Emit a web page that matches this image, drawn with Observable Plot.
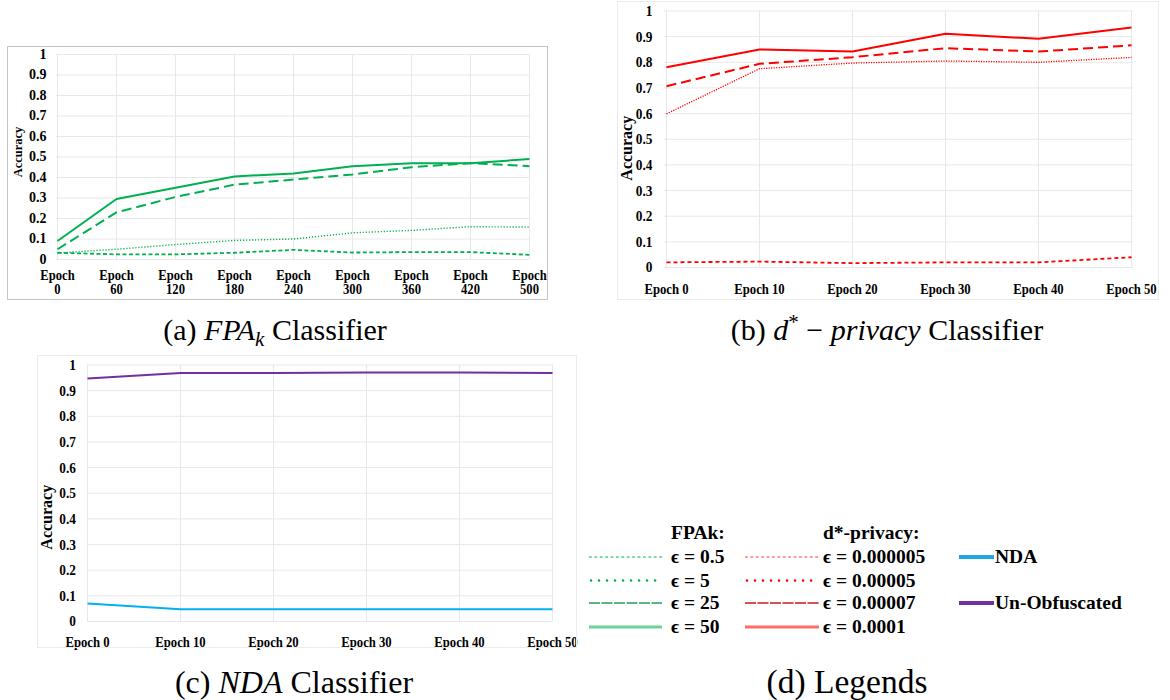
<!DOCTYPE html>
<html>
<head>
<meta charset="utf-8">
<script src="https://cdn.jsdelivr.net/npm/d3@7"></script>
<script src="https://cdn.jsdelivr.net/npm/@observablehq/plot@0.6"></script>
<style>
  html, body { margin: 0; padding: 0; background: #fff; }
  #root { position: relative; width: 1170px; height: 700px; overflow: hidden; }
  .panel { position: absolute; }
  .panel svg { display: block; overflow: visible; }
  .frame { position: absolute; box-sizing: border-box; pointer-events: none; }
  #overlay { position: absolute; left: 0; top: 0; }
</style>
</head>
<body>
<div id="root"></div>
<script>
// ---------------- DATA ----------------
const yTicks = [0, 0.1, 0.2, 0.3, 0.4, 0.5, 0.6, 0.7, 0.8, 0.9, 1];

// (a) FPAk classifier
const fpaEpochs = ["0", "60", "120", "180", "240", "300", "360", "420", "500"];
const fpaEps05 = [0.033, 0.025, 0.025, 0.033, 0.047, 0.034, 0.036, 0.036, 0.023];
const fpaEps5  = [0.032, 0.05, 0.073, 0.093, 0.10, 0.13, 0.142, 0.16, 0.158];
const fpaEps25 = [0.05, 0.23, 0.305, 0.365, 0.39, 0.415, 0.45, 0.47, 0.455];
const fpaEps50 = [0.09, 0.295, 0.35, 0.405, 0.42, 0.455, 0.47, 0.47, 0.49];

// (b) d*-privacy classifier
const dEpochs = ["Epoch 0", "Epoch 10", "Epoch 20", "Epoch 30", "Epoch 40", "Epoch 50"];
const dpEps000005 = [0.02, 0.023, 0.017, 0.02, 0.02, 0.04];
const dpEps00005  = [0.599, 0.775, 0.797, 0.805, 0.80, 0.819];
const dpEps00007  = [0.707, 0.794, 0.82, 0.855, 0.842, 0.866];
const dpEps0001   = [0.781, 0.85, 0.842, 0.911, 0.892, 0.936];

// (c) NDA classifier
const ndaEpochs = ["Epoch 0", "Epoch 10", "Epoch 20", "Epoch 30", "Epoch 40", "Epoch 50"];
const ndaAcc   = [0.07, 0.048, 0.048, 0.048, 0.048, 0.048];
const unObfAcc = [0.947, 0.969, 0.969, 0.971, 0.971, 0.969];

// legend labels
const fpaLegend = ["ϵ = 0.5", "ϵ = 5", "ϵ = 25", "ϵ = 50"];
const dpLegend  = ["ϵ = 0.000005", "ϵ = 0.00005", "ϵ = 0.00007", "ϵ = 0.0001"];
const otherLegend = ["NDA", "Un-Obfuscated"];

// ---------------- FONT PICK ----------------
function fontAvailable(name) {
  const c = document.createElement("canvas").getContext("2d");
  const s = "Classifier Epoch 0123456789 WMiil";
  c.font = "72px monospace"; const a = c.measureText(s).width;
  c.font = "72px sans-serif"; const b = c.measureText(s).width;
  c.font = `72px "${name}", monospace`; const a2 = c.measureText(s).width;
  c.font = `72px "${name}", sans-serif`; const b2 = c.measureText(s).width;
  return a2 !== a || b2 !== b;
}
const serifCandidates = ["Liberation Serif", "Tinos", "Times New Roman", "Nimbus Roman", "FreeSerif", "DejaVu Serif"];
const SERIF = (serifCandidates.find(fontAvailable) || "serif");
const FONT = `"${SERIF}", serif`;

// ---------------- HELPERS ----------------
const GREEN = "#00b050", RED = "#ff0000", BLUE = "#00b0f0", PURPLE = "#7030a0";
const GRID = "#e8e8e8";
const fmtY = d => d === 0 ? "0" : d === 1 ? "1" : d.toFixed(1);
const rows = (cats, vals) => cats.map((c, i) => ({ cat: c, v: vals[i] }));

const root = document.getElementById("root");
root.style.fontFamily = FONT;

// horizontally condense tick labels (the source figure is slightly stretched vertically)
function squish(chart, sel, sx, sy) {
  if (sx === 1 && sy === 1) return;
  d3.select(chart).selectAll(sel).each(function () {
    const t = this.getAttribute("transform");
    if (t) this.setAttribute("transform", t + ` scale(${sx},${sy})`);
    else {
      const x = +this.getAttribute("x") || 0, y = +this.getAttribute("y") || 0;
      this.removeAttribute("x"); this.removeAttribute("y");
      this.setAttribute("transform", `translate(${x},${y}) scale(${sx},${sy})`);
    }
  });
}

function addPanel(cfg) {
  const div = document.createElement("div");
  div.className = "panel";
  div.style.left = cfg.left + "px";
  div.style.top = cfg.top + "px";
  const chart = Plot.plot({
    width: cfg.width,
    height: cfg.height,
    marginLeft: cfg.ml, marginTop: cfg.mt, marginRight: cfg.mr, marginBottom: cfg.mb,
    style: { fontFamily: FONT, fontSize: cfg.fontSize + "px", fontWeight: "bold", color: "#000", background: "transparent", overflow: "visible" },
    x: { type: "point", domain: cfg.cats, padding: 0 },
    y: { domain: [0, 1] },
    marks: [
      Plot.gridX({ stroke: GRID, strokeOpacity: 1 }),
      Plot.gridY(yTicks, { stroke: GRID, strokeOpacity: 1 }),
      Plot.axisY(yTicks, { tickSize: 0, tickPadding: cfg.yPad, tickFormat: fmtY, label: null }),
      Plot.axisX({ tickSize: 0, tickPadding: cfg.xPad, tickFormat: cfg.xFmt, label: null, lineHeight: cfg.lineHeight || 1 }),
      Plot.text(["Accuracy"], { text: d => d, frameAnchor: "left", dx: cfg.labelDx, dy: cfg.labelDy, rotate: -90, textAnchor: "middle", lineAnchor: "middle", fontSize: cfg.labelSize, fontWeight: "bold" }),
      ...cfg.series.map(s => Plot.lineY(rows(cfg.cats, s.values), {
        x: "cat", y: "v", stroke: s.color, strokeWidth: s.width, strokeDasharray: s.dash, strokeLinecap: "butt"
      }))
    ]
  });
  squish(chart, 'g[aria-label="x-axis tick label"] text', cfg.xsx, 1);
  squish(chart, 'g[aria-label="y-axis tick label"] text', cfg.ysx, 1);
  div.appendChild(chart);
  root.appendChild(div);
  const fr = document.createElement("div");
  fr.className = "frame";
  fr.style.left = cfg.left + "px";
  fr.style.top = cfg.top + "px";
  fr.style.width = cfg.width + "px";
  fr.style.height = cfg.height + "px";
  fr.style.border = "1px solid " + cfg.frameColor;
  root.appendChild(fr);
}

// (a)
addPanel({
  left: 7, top: 46, width: 541, height: 254,
  ml: 49, mt: 8, mr: 19, mb: 41,
  fontSize: 14, yPad: 10, xPad: 11, lineHeight: 1.0,
  xsx: 0.9, ysx: 1,
  xFmt: d => "Epoch\n" + d,
  labelDx: -39, labelDy: -5, labelSize: 12.5,
  cats: fpaEpochs,
  frameColor: "#c4c4c4",
  series: [
    { values: fpaEps05, color: GREEN, width: 1.8, dash: "4,2.5" },
    { values: fpaEps5,  color: GREEN, width: 1.4, dash: "1.2,1.8" },
    { values: fpaEps25, color: GREEN, width: 2,   dash: "10,5" },
    { values: fpaEps50, color: GREEN, width: 2,   dash: null }
  ]
});

// (b)
addPanel({
  left: 617, top: 1, width: 542, height: 299,
  ml: 47, mt: 9.5, mr: 26, mb: 33,
  fontSize: 15.5, yPad: 12, xPad: 15,
  xsx: 0.82, ysx: 0.86,
  xFmt: d => d,
  labelDx: -38, labelDy: 9, labelSize: 16,
  cats: dEpochs,
  frameColor: "#ececec",
  series: [
    { values: dpEps000005, color: RED, width: 1.8, dash: "4,3" },
    { values: dpEps00005,  color: RED, width: 1.3, dash: "1.2,1.3" },
    { values: dpEps00007,  color: RED, width: 2,   dash: "10,5" },
    { values: dpEps0001,   color: RED, width: 2,   dash: null }
  ]
});

// (c)
addPanel({
  left: 37, top: 355, width: 540, height: 293,
  ml: 50, mt: 9.5, mr: 25, mb: 27,
  fontSize: 15.5, yPad: 11.5, xPad: 14,
  xsx: 0.82, ysx: 0.86,
  xFmt: d => d,
  labelDx: -41, labelDy: 24, labelSize: 16,
  cats: ndaEpochs,
  frameColor: "#ececec",
  series: [
    { values: ndaAcc,   color: BLUE,   width: 2, dash: null },
    { values: unObfAcc, color: PURPLE, width: 2, dash: null }
  ]
});

// ---------------- CAPTIONS & LEGEND (overlay) ----------------
const svg = d3.create("svg")
  .attr("id", "overlay")
  .attr("width", 1170).attr("height", 700)
  .style("font-family", FONT);

function caption(x, y, size, parts) {
  const t = svg.append("text").attr("x", x).attr("y", y).attr("text-anchor", "middle")
    .attr("font-size", size).attr("fill", "#000");
  parts.forEach(p => {
    const ts = t.append("tspan").text(p.t);
    if (p.i) ts.attr("font-style", "italic");
    if (p.fs) ts.attr("font-size", p.fs);
    if (p.dy) ts.attr("dy", p.dy);
  });
}
caption(275, 340, 30, [{ t: "(a) " }, { t: "FPA", i: 1 }, { t: "k", i: 1, fs: 21, dy: 6 }, { t: " Classifier", dy: -6 }]);
caption(887, 340, 30, [{ t: "(b) " }, { t: "d", i: 1 }, { t: "*", fs: 21, dy: -11 }, { t: " − ", dy: 11 }, { t: "privacy", i: 1 }, { t: " Classifier" }]);
caption(294, 693, 32, [{ t: "(c) " }, { t: "NDA", i: 1 }, { t: " Classifier" }]);
caption(847, 693, 33.5, [{ t: "(d) Legends" }]);

// legend
const lg = svg.append("g").attr("font-weight", "bold").attr("font-size", 19.5).attr("fill", "#000");
lg.append("text").attr("x", 671).attr("y", 539).text("FPAk:");
lg.append("text").attr("x", 823).attr("y", 539).text("d*-privacy:");

const rowY = [557, 580.5, 603, 627];
const fpaStyles = [
  { c: "#55cc88", w: 1.6, d: "2.8,2.6" },
  { c: GREEN, w: 2.6, d: "0.01,8", cap: "round" },
  { c: "#2a9d5c", w: 1.3, d: "11,1.5" },
  { c: "#6fd19a", w: 3, d: null }
];
const dpStyles = [
  { c: "#ff7a7a", w: 1.6, d: "2.8,2.6" },
  { c: RED, w: 2.6, d: "0.01,8", cap: "round" },
  { c: "#cc1a1a", w: 1.3, d: "11,1.5" },
  { c: "#ff6b6b", w: 3, d: null }
];
function swatch(x1, x2, y, s) {
  const l = lg.append("line").attr("x1", x1).attr("x2", x2).attr("y1", y).attr("y2", y)
    .attr("stroke", s.c).attr("stroke-width", s.w);
  if (s.d) l.attr("stroke-dasharray", s.d);
  if (s.cap) l.attr("stroke-linecap", s.cap);
}
fpaLegend.forEach((lab, i) => {
  swatch(i === 1 ? 591 : 589, 662, rowY[i], fpaStyles[i]);
  lg.append("text").attr("x", 671).attr("y", rowY[i] + 6).text(lab);
});
dpLegend.forEach((lab, i) => {
  swatch(i === 1 ? 747 : 745, 819, rowY[i], dpStyles[i]);
  lg.append("text").attr("x", 823).attr("y", rowY[i] + 6).text(lab);
});
swatch(959, 994, rowY[0], { c: "#1ea7e8", w: 4, d: null });
lg.append("text").attr("x", 995).attr("y", rowY[0] + 6).text(otherLegend[0]);
swatch(959, 994, rowY[2], { c: PURPLE, w: 4, d: null });
lg.append("text").attr("x", 995).attr("y", rowY[2] + 6).text(otherLegend[1]);

root.appendChild(svg.node());
</script>
</body>
</html>
